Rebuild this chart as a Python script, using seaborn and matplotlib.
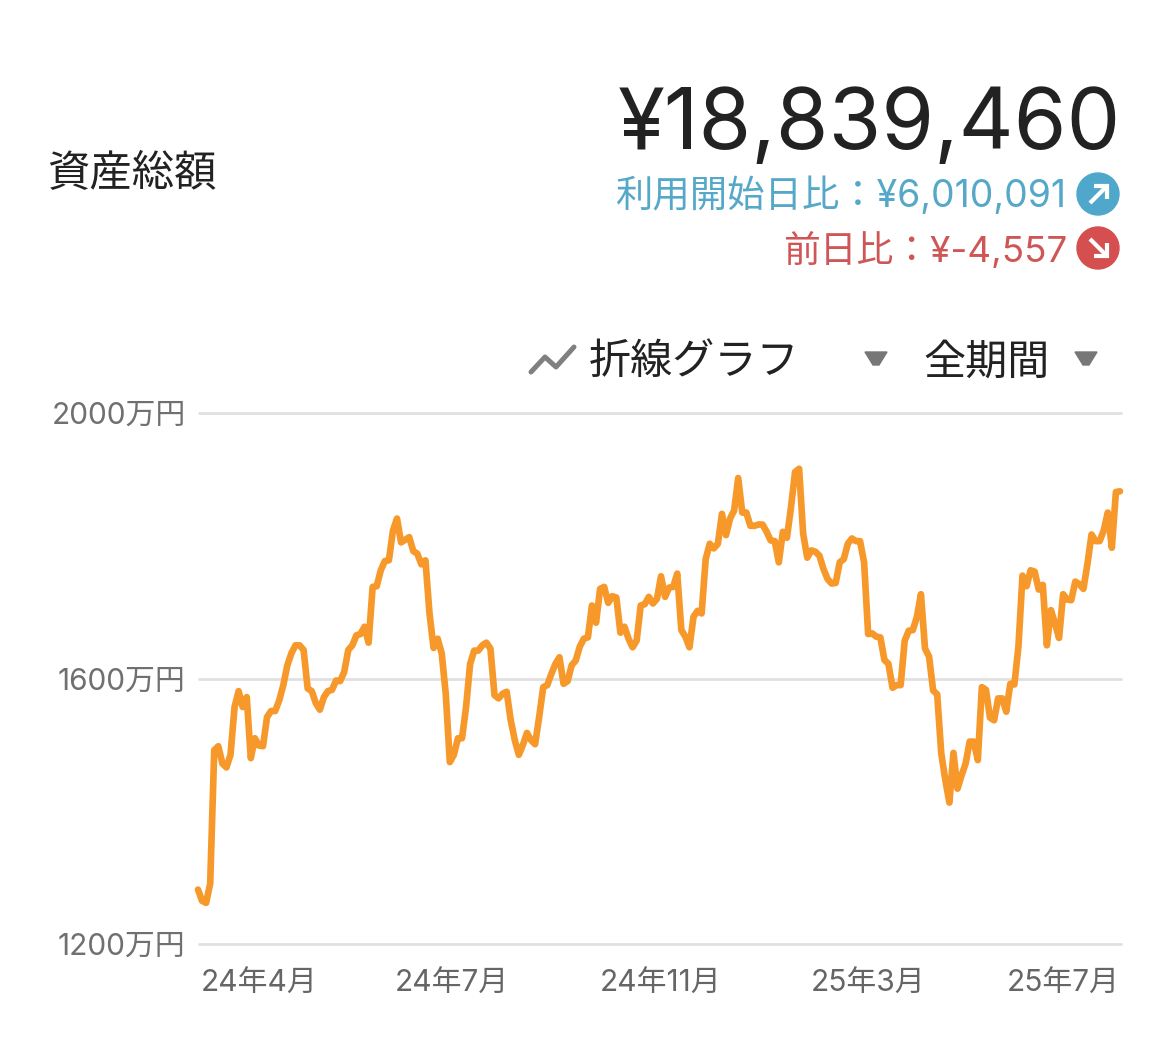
import matplotlib
matplotlib.use("Agg")
import matplotlib.pyplot as plt
from matplotlib.patches import Circle, Polygon
import seaborn as sns
import pandas as pd
import numpy as np

# Values in 万円 (one sample per step)
part1 = [1282, 1265, 1262, 1291, 1492, 1498, 1472, 1466, 1485, 1557, 1581, 1557, 1572, 1480, 1510,
         1499, 1498, 1542, 1551, 1551, 1567, 1590, 1620, 1638, 1650, 1650, 1643, 1585, 1581, 1563,
         1553, 1572, 1581, 1583, 1597, 1596, 1610, 1643, 1650, 1665, 1667, 1678, 1654, 1738, 1739,
         1763, 1777, 1778, 1823, 1841, 1805, 1809, 1813, 1792, 1788, 1772, 1778, 1698, 1646, 1660,
         1638, 1577, 1474, 1485, 1510, 1510, 1557, 1622, 1642, 1642, 1650, 1654, 1645, 1575, 1570,
         1577, 1580, 1537, 1507, 1485]
part2 = [1500, 1518, 1507, 1501, 1542, 1587, 1590, 1607, 1622, 1632, 1592, 1596, 1620, 1627, 1648,
         1660, 1662, 1710, 1684, 1735, 1738, 1714, 1724, 1722, 1669, 1678, 1660, 1647, 1657, 1710,
         1712, 1723, 1713, 1720, 1754, 1723, 1737, 1738, 1758, 1673, 1663, 1647, 1693, 1702, 1698,
         1780, 1803, 1796, 1803, 1848, 1816, 1841, 1853, 1902, 1850, 1850, 1830, 1830, 1832, 1832,
         1821, 1808, 1807, 1775, 1821, 1812, 1858, 1911, 1916, 1818, 1782, 1793, 1791, 1785, 1765,
         1750]
part3 = [1743, 1744, 1775, 1780, 1803, 1811, 1807, 1807, 1775, 1667, 1668, 1663, 1662, 1628, 1622,
         1586, 1590, 1590, 1657, 1672, 1673, 1693, 1727, 1645, 1633, 1582, 1576, 1487, 1447, 1413,
         1488, 1434, 1454, 1472, 1505, 1505, 1477, 1587, 1583, 1541, 1537, 1570, 1570, 1550, 1592,
         1591, 1648, 1755, 1739, 1763, 1761, 1734, 1741, 1650, 1703, 1683, 1661, 1727, 1719, 1718,
         1746, 1742, 1735, 1773, 1817, 1807, 1807, 1823, 1850, 1797, 1881, 1882]
values = part1 + part2 + part3

tick_samples = [15, 62.5, 114, 165, 213]
tick_labels = ['24年4月', '24年7月', '24年11月', '25年3月', '25年7月']
y_ticks = [1200, 1600, 2000]
y_labels = ['1200万円', '1600万円', '2000万円']

total = '¥18,839,460'
since_start = '利用開始日比：¥6,010,091'
since_yesterday = '前日比：¥-4,557'

W, H = 1170, 1038
sns.set_theme(style="white")
plt.rcParams['font.family'] = ['Inter', 'Noto Sans CJK JP', 'DejaVu Sans']

df = pd.DataFrame({'sample': np.arange(len(values)), 'value': values})

fig = plt.figure(figsize=(W / 100, H / 100), dpi=100)
ax = fig.add_axes([198 / W, 1 - 944 / H, (1122 - 198) / W, (944 - 413) / H])

sns.lineplot(data=df, x='sample', y='value', ax=ax, color='#f7982b', linewidth=4.8, zorder=3, clip_on=False)
ax.set_xlim(0, len(values) - 0.5)
ax.set_ylim(1200, 2000)
ax.set_xlabel('')
ax.set_ylabel('')
ax.set_yticks(y_ticks)
ax.set_yticklabels(y_labels)
ax.set_xticks(tick_samples)
ax.set_xticklabels(tick_labels)
ax.tick_params(axis='y', length=0, pad=9, labelsize=21.5, labelcolor='#707070')
ax.tick_params(axis='x', length=0, pad=18.5, labelsize=21.5, labelcolor='#666666')
ax.grid(axis='y', color='#e0e0e0', linewidth=2, clip_on=False, solid_capstyle='butt')
sns.despine(ax=ax, left=True, bottom=True)

# Header drawn in pixel coordinates on a second axes
top = fig.add_axes([0, 0, 1, 1], facecolor='none')
top.set_xlim(0, W)
top.set_ylim(H, 0)
top.axis('off')

top.text(47, 175, '資産総額', fontsize=30.5, color='#222222', va='center', ha='left')
top.text(1121, 126, total, fontsize=61.3, color='#222222', va='center', ha='right')
top.text(1067, 196, since_start, fontsize=26.9, color='#55a8c8', va='center', ha='right')
top.text(1067, 250, since_yesterday, fontsize=26.5, color='#cf5656', va='center', ha='right')
top.text(589, 363, '折線グラフ', fontsize=30.3, color='#222222', va='center', ha='left')
top.text(923, 363, '全期間', fontsize=30.3, color='#222222', va='center', ha='left')

top.add_patch(Circle((1098, 194), 21, color='#4fa8cc'))
top.add_patch(Circle((1098, 248), 21, color='#d64f50'))
arrow_style = dict(color='white', lw=3, solid_capstyle='butt', solid_joinstyle='miter')
top.plot([1090, 1106], [203, 187], **arrow_style)
top.plot([1094, 1107, 1107], [186, 186, 199], **arrow_style)
top.plot([1090, 1106], [239, 255], **arrow_style)
top.plot([1107, 1107, 1094], [243, 256, 256], **arrow_style)

for cx in [876, 1086]:
    top.add_patch(Polygon([(cx - 11, 352), (cx + 11, 352), (cx + 3, 365), (cx - 3, 365)], closed=True, color='#777777'))

top.plot([531, 545, 556, 574], [372, 357, 367, 347], color='#808080', lw=3.6, solid_capstyle='round', solid_joinstyle='round')

fig.savefig('out.png', dpi=100)
